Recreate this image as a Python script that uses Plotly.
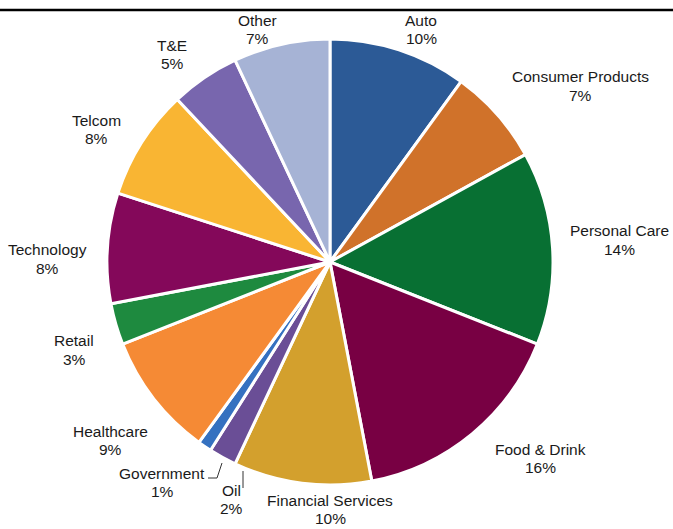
import plotly.graph_objects as go

# Sector shares (%), clockwise from 12 o'clock
sectors = ["Auto", "Consumer Products", "Personal Care", "Food & Drink",
           "Financial Services", "Oil", "Government", "Healthcare", "Retail",
           "Technology", "Telcom", "T&E", "Other"]
shares = [10, 7, 14, 16, 10, 2, 1, 9, 3, 8, 8, 5, 7]

colors = ["#2C5A96", "#D0722A", "#087033", "#780043", "#D3A02D", "#6A4E96",
          "#3571C0", "#F58A35", "#1E8A3F", "#84085A", "#F9B533", "#7866AE",
          "#A6B3D5"]

W, H = 673, 529
CX, CY, R = 330, 262, 223  # pie centre and radius in pixels


def px(x):
    return x / W


def py(y):
    return (H - y) / H


# label block centres (pixels, top-left origin)
label_pos = {
    "Auto": (421, 29), "Consumer Products": (580, 86), "Personal Care": (619, 240),
    "Food & Drink": (540, 458), "Financial Services": (330, 509), "Oil": (231, 499),
    "Government": (162, 482), "Healthcare": (110, 440), "Retail": (74, 350),
    "Technology": (47, 259), "Telcom": (97, 130), "T&E": (172, 54), "Other": (257, 29),
}

fig = go.Figure(go.Pie(
    labels=sectors, values=shares, sort=False, direction="clockwise", rotation=0,
    marker=dict(colors=colors, line=dict(color="white", width=3)),
    textinfo="none", hoverinfo="label+percent", showlegend=False,
    domain=dict(x=[px(CX - R), px(CX + R)], y=[py(CY + R), py(CY - R)]),
))

label_font = dict(family="Liberation Sans, Arial, sans-serif", size=15.5, color="#1a1a1a")
for name, val in zip(sectors, shares):
    x, y = label_pos[name]
    for text, dy in ((name, -9), (f"{val}%", 9)):
        fig.add_annotation(
            x=px(x), y=py(y + dy), xref="paper", yref="paper", showarrow=False,
            text=text, font=label_font, xanchor="center", yanchor="middle",
        )

# leader lines for the two thin slices
fig.add_shape(type="line", xref="paper", yref="paper",
              x0=px(243), y0=py(471), x1=px(243), y1=py(488),
              line=dict(color="#333333", width=1))
fig.add_shape(type="path", xref="paper", yref="paper",
              path=f"M {px(222)},{py(463)} L {px(217)},{py(478)} L {px(208)},{py(478)}",
              line=dict(color="#333333", width=1))

# rule across the top
fig.add_shape(type="line", xref="paper", yref="paper",
              x0=0, x1=1, y0=py(10), y1=py(10),
              line=dict(color="black", width=2.5))

fig.update_layout(
    width=W, height=H, margin=dict(l=0, r=0, t=0, b=0),
    paper_bgcolor="white", plot_bgcolor="white",
)

fig.write_html("out.html")
